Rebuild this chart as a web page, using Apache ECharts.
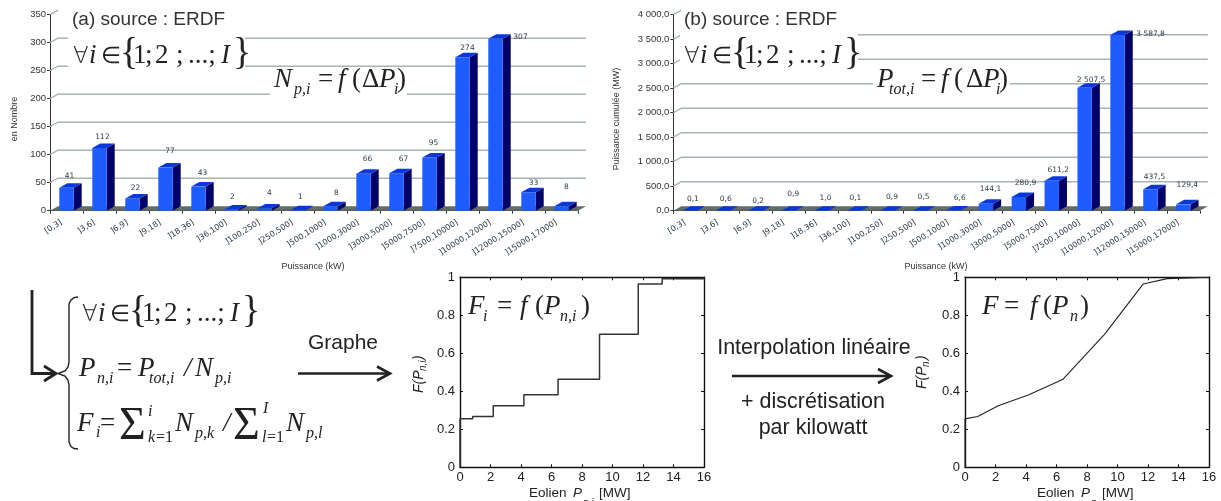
<!DOCTYPE html>
<html><head><meta charset="utf-8">
<style>html,body{margin:0;padding:0;background:#fff;overflow:hidden}#c{width:1221px;height:501px}</style>
<script src="https://cdn.jsdelivr.net/npm/echarts@6/dist/echarts.min.js"></script>
</head><body><div id="c"></div>
<script>
const categories = ['[0,3]',']3,6]',']6,9]',']9,18]',']18,36]',']36,100]',']100,250]',']250,500]',']500,1000]',']1000,3000]',']3000,5000]',']5000,7500]',']7500,10000]',']10000,12000]',']12000,15000]',']15000,17000]'];
const countValues = [41,112,22,77,43,2,4,1,8,66,67,95,274,307,33,8];
const powerValues = [0.1,0.6,0.2,0.9,1.0,0.1,0.9,0.5,6.6,144.1,280.9,611.2,2507.5,3587.8,437.5,129.4];
const countLabels = ['41','112','22','77','43','2','4','1','8','66','67','95','274','307','33','8'];
const powerLabels = ['0,1','0,6','0,2','0,9','1,0','0,1','0,9','0,5','6,6','144,1','280,9','611,2','2 507,5','3 587,8','437,5','129,4'];
const countTicks = [0,50,100,150,200,250,300,350];
const powerTicks = [0,500,1000,1500,2000,2500,3000,3500,4000];
const powerTickLabels = ['0,0','500,0','1 000,0','1 500,0','2 000,0','2 500,0','3 000,0','3 500,0','4 000,0'];
const stepP = [0,0,0.83,2.18,4.19,6.43,9.15,11.69,13.26,16];
const stepF = [0,0.255,0.267,0.324,0.382,0.464,0.70,0.965,0.993,1];
// label placement tweaks (px, relative to bar centre / bar top)
const countLabelDx = [3,3,3,4.5,4,1,5,3,6,4,7,4,5,25,5,5];
const countLabelDy = [12,11,10,17,14,13,15,13,13,15,14,14,9,2,9,19];
const powerLabelDx = [3,3,2.5,4.7,4,1,4.8,3.4,6.7,4.5,6.7,6.5,6.4,33,4,4];
const powerLabelDy = [12,12,10,17,13,13,14,14,12,15,13.5,11,8,0.5,12,19];

const DEPTH_X = 8, DEPTH_Y = 4.5, BAR_W = 14.4;
const SANS = '"Liberation Sans",Arial,sans-serif', SERIF = '"Liberation Serif","Times New Roman",serif', SMALL = '"DejaVu Sans",sans-serif', THIN = '"DejaVu Sans Light","DejaVu Sans",sans-serif';
const INK = '#222';

function wallSeries(xi, ticks) {
  return { type:'custom', xAxisIndex:xi, yAxisIndex:xi, z:1, silent:true,
    data: ticks.map((t,i)=>[i,t]),
    renderItem(p, api){
      const g = p.coordSys, v = api.value(1), y = api.coord([0,v])[1], x0 = g.x, x1 = g.x+g.width;
      const top = p.dataIndex === ticks.length-1;
      if (v === 0) return { type:'polygon', shape:{points:[[x0,y],[x1,y],[x1+DEPTH_X,y-DEPTH_Y],[x0+DEPTH_X,y-DEPTH_Y]]}, style:{fill:'#5f6c69'} };
      const pts = top ? [[x0,y],[x0+DEPTH_X,y-DEPTH_Y]] : [[x0,y],[x0+DEPTH_X,y-DEPTH_Y],[x1+DEPTH_X,y-DEPTH_Y]];
      return { type:'polyline', shape:{points:pts}, style:{stroke:'#a9b4b2', lineWidth:1.4, fill:null} };
    }, encode:{x:0,y:1} };
}
function barSeries(xi, values, labels, dx, dy) {
  return { type:'custom', xAxisIndex:xi, yAxisIndex:xi, z:3, silent:true,
    data: values.map((v,i)=>[i,v]),
    renderItem(p, api){
      const i = api.value(0), v = api.value(1), t = api.coord([i,v]), b = api.coord([i,0]);
      const xl = t[0]-BAR_W/2, xr = t[0]+BAR_W/2, yt = t[1], yb = b[1];
      return { type:'group', children:[
        { type:'polygon', shape:{points:[[xr,yt],[xr+DEPTH_X,yt-DEPTH_Y],[xr+DEPTH_X,yb-DEPTH_Y],[xr,yb]]}, style:{fill:'#00006b'} },
        { type:'polygon', shape:{points:[[xl,yt],[xl+DEPTH_X,yt-DEPTH_Y],[xr+DEPTH_X,yt-DEPTH_Y],[xr,yt]]}, style:{fill:'#0b37d8'} },
        { type:'rect', shape:{x:xl,y:yt,width:BAR_W,height:yb-yt}, style:{fill:'#1f5cff'} },
        { type:'text', x:t[0]+dx[i], y:yt-dy[i], style:{text:labels[i], font:'7.5px '+SMALL, fill:'#2b3a4a', align:'center', verticalAlign:'middle'} }
      ]};
    }, encode:{x:0,y:1} };
}
function catAxis(g){ return { type:'category', gridIndex:g, data:categories, boundaryGap:true,
  axisLine:{lineStyle:{color:'#333',width:1}}, axisTick:{show:true,length:3,lineStyle:{color:'#333'}},
  axisLabel:{interval:0,rotate:32,fontSize:8,fontFamily:SMALL,color:'#2b3a4a',margin:8,padding:[0,6,0,0]} }; }
function wallAxis(g,max,interval,fmt){ return { type:'value', gridIndex:g, min:0, max, interval,
  axisLine:{show:true,lineStyle:{color:'#333',width:1}}, axisTick:{show:true,length:3,lineStyle:{color:'#333'}}, splitLine:{show:false},
  axisLabel:{fontSize:9.5,fontFamily:SANS,color:'#333',margin:4,formatter:fmt} }; }
function probX(g,pos){ return { type:'value', gridIndex:g, position:pos, min:0, max:16, interval:2,
  axisLine:{show:true,onZero:false,lineStyle:{color:'#111',width:1.4}}, axisTick:{show:true,inside:true,length:3,lineStyle:{color:'#111'}}, splitLine:{show:false},
  axisLabel:{show:pos==='bottom',fontSize:13,fontFamily:SANS,color:INK,margin:4,hideOverlap:false} }; }
function probY(g,pos){ return { type:'value', gridIndex:g, position:pos, min:0, max:1, interval:0.2,
  axisLine:{show:true,onZero:false,lineStyle:{color:'#111',width:1.4}}, axisTick:{show:true,inside:true,length:3,lineStyle:{color:'#111'}}, splitLine:{show:false},
  axisLabel:{show:pos==='left',fontSize:13,fontFamily:SANS,color:INK,margin:5,formatter:v=>String(+v.toFixed(1))} }; }

/* text helpers ------------------------------------------------ */
const items = [];
function frag(x, base, s, size, o={}) {
  const rot = o.rot ? Math.PI/2 : 0;
  const family = o.family || SERIF;
  const off = size*0.3;
  items.push({ type:'text', z:11, x: o.rot ? x-off : x, y: o.rot ? base : base-off, rotation:rot, silent:true,
    style:{ text:s, fontSize:size, fontFamily:family, fontWeight:o.weight||'normal', fontStyle:o.italic?'italic':'normal', fill:o.fill||INK, align:o.align||'left', verticalAlign:'middle' } });
}
const it = {italic:true};
const sans = {family:SANS};
const mi = {family:SANS,italic:true};
const mr = {family:SANS,italic:true,rot:true};
const sym = {family:THIN,weight:200};
function forall(x, y) { // y = baseline
  frag(x,y,'∀',23,sym); frag(x+16,y,'i',27,it); frag(x+28,y,'∈',23,sym);
  frag(x+47,y+1,'{',38,{}); frag(x+60,y,'1',27); frag(x+72,y,';',27); frag(x+82,y,'2',27);
  frag(x+103,y,';',27); frag(x+115,y,'...;',27); frag(x+148,y,'I',27,it); frag(x+160,y+1,'}',38);
}
function box(x,y,w,h){ items.push({type:'rect',z:10,silent:true,shape:{x,y,width:w,height:h},style:{fill:'#fff'}}); }
function line(pts,w,c){ items.push({type:'polyline',z:11,silent:true,shape:{points:pts},style:{stroke:c||'#222',lineWidth:w,fill:null,lineJoin:'miter'}}); }
function arrow(x0,x1,y){ line([[x0,y],[x1,y]],2.6); line([[x1-13,y-7],[x1,y],[x1-13,y+7]],2.6); }

// panel (a)
frag(72,25,'(a) source : ERDF',19,{family:SANS,fill:'#333'});
box(68,28,177,44); forall(73,64);
box(270,72,137,28);
frag(274,88,'N',27,it); frag(294,95,'p,i',16,it); frag(318,88,'=',27); frag(338,88,'f',27,it); frag(352,88,'(',27); frag(362,88,'Δ',27); frag(379,88,'P',27,it); frag(394,95,'i',16,it); frag(397,88,')',27);
frag(17,119,'en Nombre',9,{family:SANS,rot:true,align:'center',fill:'#333'});
frag(313,269,'Puissance (kW)',9,{family:SANS,align:'center',fill:'#333'});
// panel (b)
frag(684,25,'(b) source : ERDF',19,{family:SANS,fill:'#333'});
box(680,28,178,44); forall(684,64);
box(873,72,137,28);
frag(877,88,'P',27,it); frag(889,95,'tot,i',16,it); frag(921,88,'=',27); frag(941,88,'f',27,it); frag(954,88,'(',27); frag(966,88,'Δ',27); frag(983,88,'P',27,it); frag(996,95,'i',16,it); frag(999,88,')',27);
frag(619,119,'Puissance cumulée (MW)',9,{family:SANS,rot:true,align:'center',fill:'#333'});
frag(936,269,'Puissance (kW)',9,{family:SANS,align:'center',fill:'#333'});

// equation system
line([[32,290],[32,373.5],[56,373.5]],2.8); line([[44,366],[56,373.5],[44,381]],2.8);
line([[78,297],[74,297.6],[71,300],[69,304],[69,362],[68,367],[65,371],[58,373.5],[65,376],[68,380],[69,385],[69,442],[71,446.5],[74,448.5],[78,449]],1.4);
forall(82,322);
frag(79,377,'P',27,it); frag(97,384,'n,i',16,it); frag(117,377,'=',27); frag(138,377,'P',27,it); frag(149,384,'tot,i',16,it); frag(184,377,'/',27,it); frag(195,377,'N',27,it); frag(215,384,'p,i',16,it);
frag(77,432,'F',27,it); frag(96,438,'i',16,it); frag(100,432,'=',27);
frag(119,441,'Σ',46); frag(148,417,'i',16,it); frag(148,443,'k',16,it); frag(156,443,'=1',16);
frag(175,432,'N',27,it); frag(195,439,'p,k',16,it); frag(223,432,'/',27,it);
frag(233,441,'Σ',46); frag(263,414,'I',16,it); frag(262,443,'l',16,it); frag(267,443,'=1',16);
frag(286,432,'N',27,it); frag(306,439,'p,l',16,it);
frag(343,350,'Graphe',21,{family:SANS,align:'center'});
arrow(298,390,373.5);

// panel (c) annotations
frag(468,315,'F',27,it); frag(483,322,'i',16,it); frag(497,315,'=',27); frag(520,315,'f',27,it); frag(535,315,'(',27); frag(544,315,'P',27,it); frag(560,322,'n,i',16,it); frag(581,315,')',27);
frag(423,393,'F(P',14,mr); frag(426,371,'n,i',10,mr); frag(423,360,')',14,mr);
frag(529,497,'Eolien',13.5,sans); frag(573,497,'P',13.5,mi); frag(583,506,'n,i',10,mi); frag(599,497,'[MW]',13.5,sans);
// middle text
frag(814,355,'Interpolation linéaire',21.5,{family:SANS,align:'center'});
arrow(732,891,376);
frag(813,409,'+ discrétisation',21.5,{family:SANS,align:'center'});
frag(813,435,'par kilowatt',21.5,{family:SANS,align:'center'});
// panel (d) annotations
frag(982,315,'F',27,it); frag(1004,315,'=',27); frag(1030,315,'f',27,it); frag(1043,315,'(',27); frag(1052,315,'P',27,it); frag(1070,322,'n',16,it); frag(1080,315,')',27);
frag(926,389,'F(P',14,mr); frag(929,367,'n',10,mr); frag(926,360,')',14,mr);
frag(1037,497,'Eolien',13.5,sans); frag(1081,497,'P',13.5,mi); frag(1091,506,'n',10,mi); frag(1102,497,'[MW]',13.5,sans);

const option = {
  animation:false, backgroundColor:'#fff',
  grid:[
    {left:50,top:14.7,width:528,height:196},
    {left:673.4,top:14.7,width:526.4,height:196},
    {left:460,top:277.3,width:244,height:190},
    {left:965,top:277.3,width:244,height:190}
  ],
  xAxis:[catAxis(0),catAxis(1),probX(2,'bottom'),probX(3,'bottom'),probX(2,'top'),probX(3,'top')],
  yAxis:[wallAxis(0,350,50),wallAxis(1,4000,500,v=>powerTickLabels[powerTicks.indexOf(v)]),probY(2,'left'),probY(3,'left'),probY(2,'right'),probY(3,'right')],
  series:[
    wallSeries(0,countTicks), wallSeries(1,powerTicks),
    barSeries(0,countValues,countLabels,countLabelDx,countLabelDy),
    barSeries(1,powerValues,powerLabels,powerLabelDx,powerLabelDy),
    {type:'line',xAxisIndex:2,yAxisIndex:2,step:'end',showSymbol:false,silent:true,lineStyle:{color:'#333',width:1.5},data:stepP.map((p,i)=>[p,stepF[i]])},
    {type:'line',xAxisIndex:3,yAxisIndex:3,showSymbol:false,silent:true,lineStyle:{color:'#222',width:1.1},data:stepP.map((p,i)=>[p,stepF[i]])}
  ],
  graphic:items
};
echarts.init(document.getElementById('c'),null,{renderer:'canvas'}).setOption(option);
</script></body></html>
